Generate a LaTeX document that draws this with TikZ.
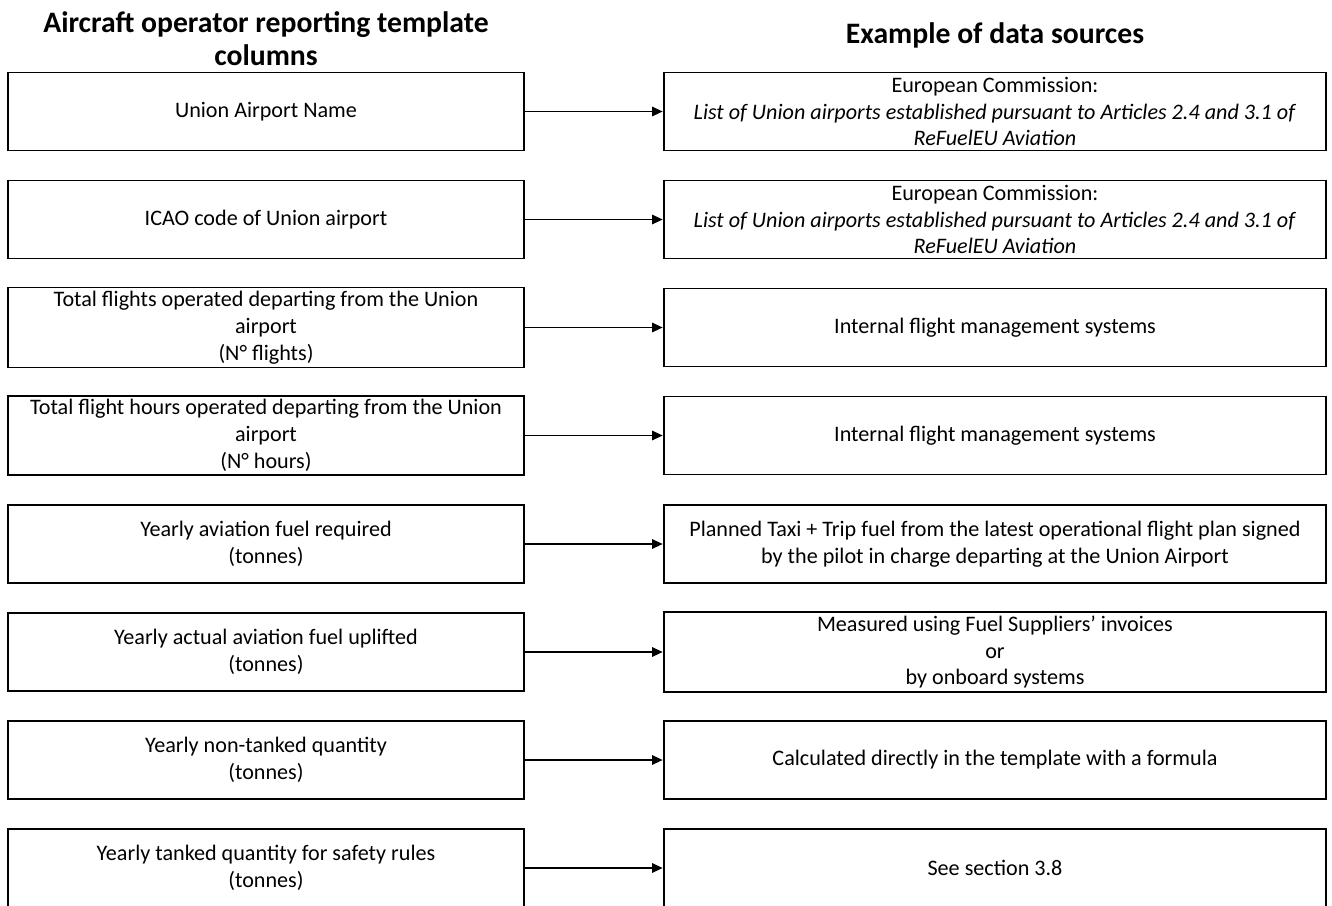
\documentclass[tikz,border=0pt]{standalone}
\usepackage{fontspec}
\setmainfont{Carlito}
\usetikzlibrary{arrows.meta}
\tikzset{
  colbox/.style={draw, line width=1.1pt, minimum height=1.56cm, align=center, inner sep=2pt, font=\fontsize{12.6}{15.3}\selectfont},
  leftbox/.style={colbox, minimum width=10.32cm},
  rightbox/.style={colbox, minimum width=13.26cm},
  feed/.style={-{Triangle[length=6pt,width=5.5pt]}, line width=0.6pt},
  heading/.style={font=\fontsize{16.9}{18.8}\selectfont\bfseries, align=center}
}

\begin{document}
\begin{tikzpicture}[x=0.02cm, y=-0.02cm]
\useasboundingbox (0,0) rectangle (1332,906);
\clip (0,0) rectangle (1332,906);
%Headings
\node[heading] (hleft) at (266,38.5) {Aircraft operator reporting template\\columns};
\node[heading] (hright) at (995,35) {Example of data sources};
%Template columns
\node[leftbox] (l1) at (266,111.5) {Union Airport Name};
\node[leftbox] (l2) at (266,219.5) {ICAO code of Union airport};
\node[leftbox] (l3) at (266,327.5) {Total flights operated departing from the Union\\airport\\(N° flights)};
\node[leftbox] (l4) at (266,435.5) {Total flight hours operated departing from the Union\\airport\\(N° hours)};
\node[leftbox] (l5) at (266,544) {Yearly aviation fuel required\\(tonnes)};
\node[leftbox] (l6) at (266,652) {Yearly actual aviation fuel uplifted\\(tonnes)};
\node[leftbox] (l7) at (266,760) {Yearly non-tanked quantity\\(tonnes)};
\node[leftbox] (l8) at (266,868) {Yearly tanked quantity for safety rules\\(tonnes)};
%Data sources
\node[rightbox] (r1) at (995,111.5) {European Commission:\\\textit{List of Union airports established pursuant to Articles 2.4 and 3.1 of}\\\textit{ReFuelEU Aviation}};
\node[rightbox] (r2) at (995,219.5) {European Commission:\\\textit{List of Union airports established pursuant to Articles 2.4 and 3.1 of}\\\textit{ReFuelEU Aviation}};
\node[rightbox] (r3) at (995,327.5) {Internal flight management systems};
\node[rightbox] (r4) at (995,435.5) {Internal flight management systems};
\node[rightbox] (r5) at (995,544) {Planned Taxi + Trip fuel from the latest operational flight plan signed\\by the pilot in charge departing at the Union Airport};
\node[rightbox] (r6) at (995,652) {Measured using Fuel Suppliers’ invoices\\or\\by onboard systems};
\node[rightbox] (r7) at (995,760) {Calculated directly in the template with a formula};
\node[rightbox] (r8) at (995,868) {See section 3.8};
%Arrows
\foreach \i in {1,...,8}
  \draw[feed] (l\i.east) -- (r\i.west);
\end{tikzpicture}
\end{document}
